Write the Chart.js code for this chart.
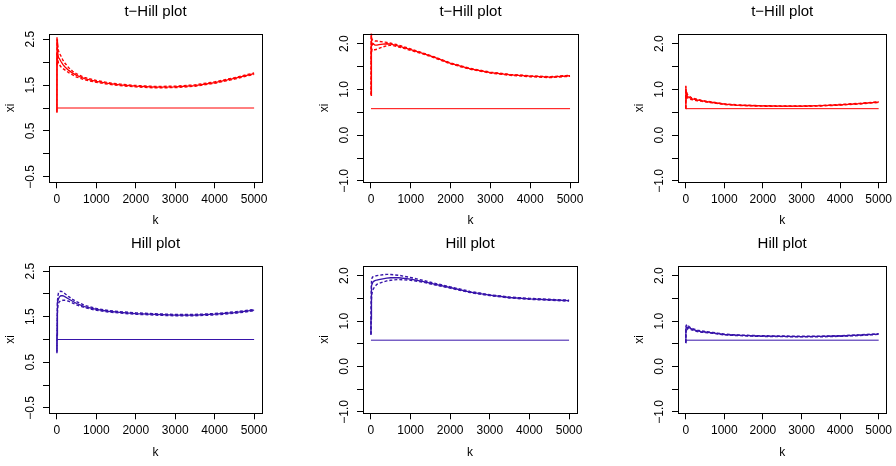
<!DOCTYPE html>
<html>
<head>
<meta charset="utf-8">
<script src="https://cdn.jsdelivr.net/npm/chart.js@4.4.1/dist/chart.umd.min.js"></script>
<style>
  body { margin: 0; background: #fff; width: 896px; height: 466px; position: relative; overflow: hidden; }
  canvas { position: absolute; }
</style>
</head>
<body>
<canvas id="c1"></canvas>
<canvas id="c2"></canvas>
<canvas id="c3"></canvas>
<canvas id="c4"></canvas>
<canvas id="c5"></canvas>
<canvas id="c6"></canvas>
<script>
// k values shared by every estimate curve
const kVals = [1, 3, 6, 10, 15, 25, 40, 60, 100, 150, 200, 300, 400, 500, 700, 1000, 1300, 1600, 2000, 2500, 3000, 3500, 4000, 4500, 5000];
const trueK = [1, 5000];

// t-Hill estimates (top row)
const tHillEst1 = [0.90, 2.50, 2.05, 2.30, 2.15, 2.25, 2.10, 2.08, 2.02, 1.95, 1.90, 1.82, 1.76, 1.71, 1.64, 1.58, 1.535, 1.505, 1.475, 1.455, 1.46, 1.49, 1.555, 1.645, 1.75];
const tHillUp1  = [0.95, 2.55, 2.35, 2.40, 2.30, 2.35, 2.25, 2.20, 2.14, 2.05, 1.98, 1.88, 1.80, 1.745, 1.665, 1.60, 1.552, 1.52, 1.49, 1.47, 1.475, 1.505, 1.57, 1.66, 1.765];
const tHillLo1  = [0.90, 2.20, 1.90, 2.05, 1.95, 2.05, 1.98, 1.95, 1.90, 1.86, 1.83, 1.77, 1.72, 1.675, 1.615, 1.56, 1.518, 1.49, 1.46, 1.44, 1.445, 1.475, 1.54, 1.63, 1.735];

const tHillEst2 = [0.87, 2.25, 1.75, 2.10, 1.95, 2.05, 1.98, 2.00, 1.97, 1.97, 1.98, 1.99, 2.00, 1.99, 1.95, 1.87, 1.79, 1.70, 1.57, 1.45, 1.37, 1.32, 1.29, 1.27, 1.30];
const tHillUp2  = [0.90, 2.35, 2.10, 2.25, 2.15, 2.10, 2.08, 2.07, 2.06, 2.06, 2.05, 2.04, 2.03, 2.01, 1.97, 1.885, 1.80, 1.71, 1.58, 1.46, 1.38, 1.33, 1.30, 1.28, 1.31];
const tHillLo2  = [0.87, 2.00, 1.60, 1.85, 1.80, 1.88, 1.86, 1.87, 1.87, 1.88, 1.90, 1.93, 1.96, 1.97, 1.93, 1.855, 1.78, 1.69, 1.56, 1.44, 1.36, 1.31, 1.28, 1.26, 1.29];

const tHillEst3 = [0.58, 1.07, 0.85, 0.95, 0.88, 0.92, 0.86, 0.84, 0.82, 0.80, 0.79, 0.77, 0.755, 0.74, 0.715, 0.68, 0.66, 0.65, 0.64, 0.635, 0.635, 0.645, 0.665, 0.69, 0.725];
const tHillUp3  = [0.60, 1.08, 0.95, 1.00, 0.93, 0.95, 0.90, 0.87, 0.85, 0.82, 0.81, 0.785, 0.765, 0.75, 0.722, 0.687, 0.666, 0.655, 0.645, 0.64, 0.64, 0.65, 0.672, 0.697, 0.732];
const tHillLo3  = [0.58, 0.95, 0.78, 0.88, 0.82, 0.87, 0.82, 0.81, 0.79, 0.78, 0.77, 0.755, 0.745, 0.73, 0.708, 0.673, 0.654, 0.645, 0.635, 0.63, 0.63, 0.64, 0.658, 0.683, 0.718];

// Hill estimates (bottom row)
const hillEst1 = [0.72, 1.10, 1.40, 1.60, 1.72, 1.82, 1.89, 1.93, 1.96, 1.96, 1.94, 1.89, 1.84, 1.79, 1.72, 1.66, 1.62, 1.595, 1.57, 1.55, 1.535, 1.535, 1.555, 1.59, 1.645];
const hillUp1  = [0.75, 1.20, 1.50, 1.70, 1.85, 1.95, 2.02, 2.05, 2.06, 2.04, 2.01, 1.94, 1.88, 1.83, 1.75, 1.68, 1.635, 1.61, 1.585, 1.565, 1.55, 1.55, 1.57, 1.605, 1.66];
const hillLo1  = [0.70, 1.00, 1.30, 1.50, 1.62, 1.72, 1.79, 1.83, 1.85, 1.86, 1.86, 1.84, 1.80, 1.76, 1.70, 1.64, 1.605, 1.58, 1.555, 1.535, 1.52, 1.52, 1.54, 1.575, 1.63];

const hillEst2 = [0.70, 1.05, 1.35, 1.55, 1.68, 1.78, 1.84, 1.87, 1.89, 1.905, 1.915, 1.93, 1.945, 1.955, 1.955, 1.925, 1.875, 1.815, 1.74, 1.64, 1.57, 1.52, 1.49, 1.47, 1.45];
const hillUp2  = [0.72, 1.20, 1.55, 1.75, 1.88, 1.94, 1.97, 1.98, 1.99, 2.00, 2.01, 2.02, 2.03, 2.025, 2.01, 1.96, 1.90, 1.835, 1.755, 1.655, 1.58, 1.53, 1.50, 1.48, 1.46];
const hillLo2  = [0.70, 0.95, 1.20, 1.38, 1.50, 1.60, 1.67, 1.71, 1.76, 1.81, 1.83, 1.86, 1.885, 1.90, 1.915, 1.90, 1.86, 1.80, 1.725, 1.63, 1.56, 1.51, 1.48, 1.46, 1.44];

const hillEst3 = [0.52, 0.70, 0.82, 0.86, 0.88, 0.87, 0.85, 0.87, 0.85, 0.83, 0.81, 0.785, 0.77, 0.76, 0.74, 0.705, 0.69, 0.68, 0.67, 0.665, 0.66, 0.662, 0.672, 0.69, 0.715];
const hillUp3  = [0.54, 0.78, 0.88, 0.90, 0.91, 0.90, 0.88, 0.90, 0.87, 0.85, 0.83, 0.80, 0.785, 0.77, 0.75, 0.713, 0.697, 0.687, 0.677, 0.672, 0.667, 0.669, 0.679, 0.697, 0.722];
const hillLo3  = [0.52, 0.62, 0.76, 0.81, 0.84, 0.84, 0.82, 0.84, 0.83, 0.81, 0.795, 0.77, 0.755, 0.75, 0.73, 0.697, 0.683, 0.673, 0.663, 0.658, 0.653, 0.655, 0.665, 0.683, 0.708];

// true xi per column
const trueXi = [1.0, 0.58, 0.58];

// axis ticks
const xTicks = [0, 1000, 2000, 3000, 4000, 5000];
const xLabels = ['0', '1000', '2000', '3000', '4000', '5000'];
const yTicksA = [-0.5, 0, 0.5, 1, 1.5, 2, 2.5];
const yLabelsA = ['\u22120.5', '', '0.5', '', '1.5', '', '2.5'];
const yTicksB = [-1, -0.5, 0, 0.5, 1, 1.5, 2];
const yLabelsB = ['\u22121.0', '', '0.0', '', '1.0', '', '2.0'];

Chart.defaults.font.family = '"Liberation Sans", Arial, Helvetica, sans-serif';
Chart.defaults.color = '#000';

const RED = '#ff0000';
const BLUE = '#3714aa';

// box around the plotting region, like R's box()
const frame = {
  id: 'frame',
  afterDraw(chart) {
    const { ctx, chartArea: a } = chart;
    ctx.save();
    ctx.strokeStyle = '#000';
    ctx.lineWidth = 1;
    ctx.strokeRect(Math.round(a.left) + 0.5, Math.round(a.top) + 0.5,
      Math.round(a.right) - Math.round(a.left), Math.round(a.bottom) - Math.round(a.top));
    ctx.restore();
  }
};

function pts(xs, ys) {
  return xs.map((x, i) => ({ x: x, y: ys[i] }));
}

function makePanel(p) {
  const canvas = document.getElementById(p.id);
  canvas.width = p.w;
  canvas.height = p.h;
  canvas.style.left = p.left + 'px';
  canvas.style.top = p.top + 'px';

  const line = (data, dash, width) => ({
    data: data,
    borderColor: p.color,
    borderWidth: width,
    borderDash: dash,
    pointRadius: 0,
    tension: 0,
    fill: false
  });

  return new Chart(canvas, {
    type: 'line',
    data: {
      datasets: [
        line(pts(trueK, [p.xi, p.xi]), [], 1),
        line(pts(kVals, p.up), [3, 2], 1.4),
        line(pts(kVals, p.lo), [3, 2], 1.4),
        line(pts(kVals, p.est), [], 1.3)
      ]
    },
    options: {
      responsive: false,
      animation: false,
      devicePixelRatio: 1,
      layout: { padding: { left: 0, right: p.rp, top: 0, bottom: 0 } },
      plugins: {
        legend: { display: false },
        tooltip: { enabled: false },
        title: {
          display: true,
          text: p.title,
          fullSize: false,
          color: '#000',
          font: { size: 15, weight: 'normal' },
          padding: { top: 2.8, bottom: 12.9 }
        }
      },
      scales: {
        x: {
          type: 'linear',
          min: -200,
          max: 5200,
          bounds: 'data',
          afterBuildTicks: s => { s.ticks = xTicks.map(v => ({ value: v })); },
          afterFit: s => { s.height = p.xh; s.paddingLeft = 0; s.paddingRight = 0; },
          ticks: {
            autoSkip: false,
            maxRotation: 0,
            padding: 4.6,
            font: { size: 12 },
            callback: (v, i) => xLabels[i]
          },
          grid: { drawOnChartArea: false, drawTicks: true, tickLength: 6, color: '#000' },
          border: { display: false },
          title: { display: true, text: 'k', font: { size: 12 }, padding: { top: 0, bottom: 5.1 } }
        },
        y: {
          type: 'linear',
          min: p.yMin,
          max: p.yMax,
          bounds: 'data',
          afterBuildTicks: s => { s.ticks = p.yTicks.map(v => ({ value: v })); },
          afterFit: s => { s.width = 49; s.paddingTop = 0; s.paddingBottom = 0; },
          ticks: {
            autoSkip: false,
            minRotation: 90,
            maxRotation: 90,
            crossAlign: 'center',
            padding: 0,
            font: { size: 12 },
            callback: (v, i) => p.yLabels[i]
          },
          grid: { drawOnChartArea: false, drawTicks: true, tickLength: 6, color: '#000' },
          border: { display: false },
          title: { display: true, text: 'xi', font: { size: 12 }, padding: { top: 3.8, bottom: 0 } }
        }
      }
    },
    plugins: [frame]
  });
}

const rangeA = [-0.62, 2.62];
const rangeB = [-1.03, 2.22];

makePanel({ id: 'c1', left: 0, top: 0, w: 298, h: 233, rp: 36, xh: 50.7, title: 't\u2212Hill plot', color: RED,
  est: tHillEst1, up: tHillUp1, lo: tHillLo1, xi: trueXi[0], yMin: rangeA[0], yMax: rangeA[1], yTicks: yTicksA, yLabels: yLabelsA });
makePanel({ id: 'c2', left: 314, top: 0, w: 298, h: 233, rp: 34, xh: 50.7, title: 't\u2212Hill plot', color: RED,
  est: tHillEst2, up: tHillUp2, lo: tHillLo2, xi: trueXi[1], yMin: rangeB[0], yMax: rangeB[1], yTicks: yTicksB, yLabels: yLabelsB });
makePanel({ id: 'c3', left: 629, top: 0, w: 267, h: 233, rp: 9.6, xh: 50.7, title: 't\u2212Hill plot', color: RED,
  est: tHillEst3, up: tHillUp3, lo: tHillLo3, xi: trueXi[2], yMin: rangeB[0], yMax: rangeB[1], yTicks: yTicksB, yLabels: yLabelsB });
makePanel({ id: 'c4', left: 0, top: 232, w: 298, h: 233, rp: 36, xh: 51.7, title: 'Hill plot', color: BLUE,
  est: hillEst1, up: hillUp1, lo: hillLo1, xi: trueXi[0], yMin: rangeA[0], yMax: rangeA[1], yTicks: yTicksA, yLabels: yLabelsA });
makePanel({ id: 'c5', left: 314, top: 232, w: 298, h: 233, rp: 35, xh: 51.7, title: 'Hill plot', color: BLUE,
  est: hillEst2, up: hillUp2, lo: hillLo2, xi: trueXi[1], yMin: rangeB[0], yMax: rangeB[1], yTicks: yTicksB, yLabels: yLabelsB });
makePanel({ id: 'c6', left: 629, top: 232, w: 267, h: 233, rp: 9.6, xh: 51.7, title: 'Hill plot', color: BLUE,
  est: hillEst3, up: hillUp3, lo: hillLo3, xi: trueXi[2], yMin: rangeB[0], yMax: rangeB[1], yTicks: yTicksB, yLabels: yLabelsB });
</script>
</body>
</html>
